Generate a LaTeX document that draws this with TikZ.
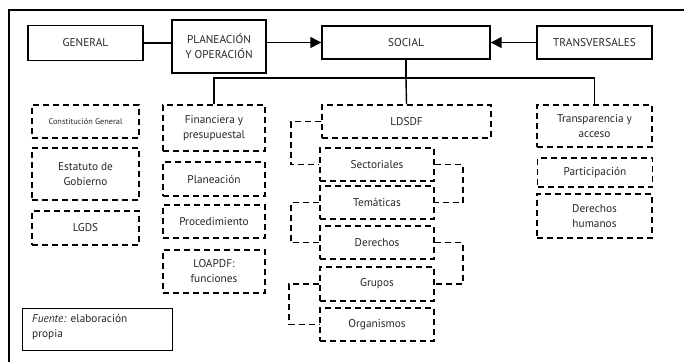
\documentclass[tikz,border=0pt]{standalone}
\usepackage{fontspec}
\setmainfont{PT Sans}
\usetikzlibrary{arrows.meta}
\begin{document}
\begin{tikzpicture}[x=1pt,y=-1pt,
  txt/.style={font=\fontsize{11.3}{15}\selectfont, align=center, text=black!85},
  solidbox/.style={draw, line width=1.4pt, inner sep=0pt, txt},
  dashbox/.style={draw, line width=1.5pt, dash pattern=on 6pt off 4pt, inner sep=0pt, txt},
  link/.style={line width=1.4pt},
  dlink/.style={line width=1.7pt, dash pattern=on 6pt off 4pt},
  tip/.style={-{Triangle[length=11pt,width=11pt]}}]
\useasboundingbox (0,0) rectangle (684,362);
% outer frame (top and left edges)
\draw[line width=1.4pt] (9,362) -- (9,10) -- (684,10);

% top row
\node[solidbox, minimum width=115pt, minimum height=35pt] (general) at (85.5,43) {GENERAL};
\node[solidbox, minimum width=94pt, minimum height=53pt] (planop) at (219,46.5) {PLANEACIÓN\\Y OPERACIÓN};
\node[solidbox, minimum width=168pt, minimum height=33pt] (social) at (406,42.5) {SOCIAL};
\node[solidbox, minimum width=115pt, minimum height=33pt] (transv) at (594.5,42.5) {TRANSVERSALES};

% column: general
\node[dashbox, minimum width=107pt, minimum height=33pt, font=\fontsize{8.3}{10}\selectfont] (const) at (85.5,121.5) {Constitución General};
\node[dashbox, minimum width=107pt, minimum height=52pt] (estat) at (85.5,174) {Estatuto de\\Gobierno};
\node[dashbox, minimum width=107pt, minimum height=34pt] (lgds) at (85.5,228) {LGDS};

% column: planeación y operación
\node[dashbox, minimum width=102pt, minimum height=46pt] (finan) at (214,128) {Financiera y\\presupuestal};
\node[dashbox, minimum width=102pt, minimum height=34pt] (plane) at (214,179) {Planeación};
\node[dashbox, minimum width=102pt, minimum height=33pt] (proce) at (214,221.5) {Procedimiento};
\node[dashbox, minimum width=102pt, minimum height=43pt] (loapdf) at (214,271.5) {LOAPDF:\\funciones};

% column: social
\node[dashbox, minimum width=169pt, minimum height=33pt] (ldsdf) at (406.5,121.5) {LDSDF};
\node[dashbox, minimum width=114pt, minimum height=33pt] (sect) at (377,164.5) {Sectoriales};
\node[dashbox, minimum width=114pt, minimum height=33pt] (tema) at (377,202.5) {Temáticas};
\node[dashbox, minimum width=114pt, minimum height=33pt] (dere) at (377,242.5) {Derechos};
\node[dashbox, minimum width=114pt, minimum height=34pt] (grup) at (377,284) {Grupos};
\node[dashbox, minimum width=114pt, minimum height=33pt] (orga) at (377,324.5) {Organismos};

% column: transversales
\node[dashbox, minimum width=115pt, minimum height=42pt] (transp) at (594.5,126) {Transparencia y\\acceso};
\node[dashbox, minimum width=115pt, minimum height=29pt] (parti) at (595,172.5) {Participación};
\node[dashbox, minimum width=115pt, minimum height=44pt] (dhum) at (594.5,216) {Derechos\\humanos};

% source note
\node[draw, line width=0.9pt, minimum width=150pt, minimum height=42pt, inner sep=0pt] (fuente) at (97,329) {};
\node[txt, align=left, anchor=north west, inner sep=0pt] (fuentetxt) at (32,314) {\textit{Fuente:} elaboración\\propia};

% connectors between the top boxes
\draw[link] (general.east) -- (general.east -| planop.west);
\draw[link, tip] (planop.east |- social.west) -- (social.west);
\draw[link, tip] (transv.west) -- (social.east);

% branch from SOCIAL to the three columns
\coordinate (bus) at (406,78);
\draw[link] (social.south) -- (bus);
\draw[link] (finan.north) -- (finan.north |- bus) -- (transp.north |- bus) -- (transp.north);
\draw[link] (bus) -- (ldsdf.north);

% dashed brackets linking the social laws
\draw[dlink] (ldsdf.west) -- ++(-30,0) |- (sect.west);
\draw[dlink] (sect.east) -- ++(28,0) |- (tema.east);
\draw[dlink] (tema.west) -- ++(-28,0) |- (dere.west);
\draw[dlink] (dere.east) -- ++(28,0) |- (grup.east);
\draw[dlink] (grup.west) -- ++(-30,0) |- (orga.west);
\end{tikzpicture}
\end{document}
